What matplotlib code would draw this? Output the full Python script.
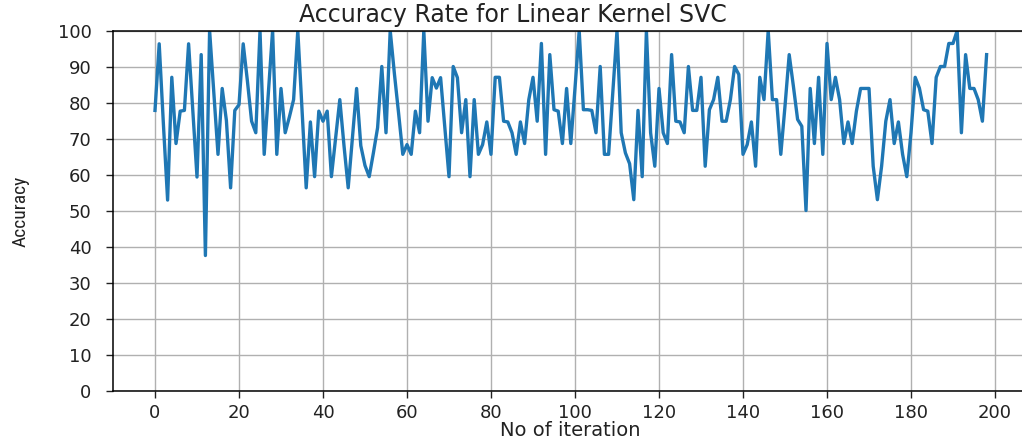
import matplotlib
matplotlib.use("Agg")
import matplotlib.pyplot as plt
from matplotlib import font_manager

# Accuracy (%) per iteration
accuracy = [
    77.8, 96.3, 74.0, 52.9, 87.0, 68.6, 77.6, 77.8, 96.3, 78.0,
    59.3, 93.3, 37.5, 100.0, 83.0, 65.6, 83.9, 75.0, 56.3, 77.8,
    79.4, 96.3, 86.0, 74.8, 71.6, 100.0, 65.6, 83.0, 100.0, 65.6,
    83.9, 71.6, 76.0, 80.8, 100.0, 78.0, 56.3, 74.6, 59.4, 77.6,
    74.8, 77.6, 59.4, 70.0, 80.8, 68.0, 56.3, 70.0, 83.9, 68.0,
    62.5, 59.4, 66.0, 73.0, 90.0, 71.6, 100.0, 88.0, 77.0, 65.6,
    68.3, 65.6, 77.6, 71.6, 100.0, 74.8, 86.9, 84.0, 86.9, 73.0,
    59.4, 90.0, 86.9, 71.6, 80.8, 59.4, 80.8, 65.6, 68.3, 74.6,
    65.6, 87.0, 87.0, 74.8, 74.6, 71.6, 65.6, 74.6, 68.6, 80.8,
    87.0, 74.8, 96.4, 65.6, 93.3, 78.0, 77.6, 68.6, 83.9, 68.6,
    84.0, 100.0, 78.0, 78.0, 77.8, 71.6, 90.0, 65.6, 65.6, 83.0,
    100.0, 71.6, 66.0, 63.0, 53.0, 77.8, 59.4, 100.0, 71.6, 62.3,
    83.9, 71.6, 68.6, 93.3, 74.8, 74.6, 71.6, 90.0, 77.8, 77.8,
    87.0, 62.3, 78.0, 80.8, 87.0, 74.8, 74.8, 80.8, 90.0, 87.8,
    65.6, 68.3, 74.6, 62.3, 87.0, 80.8, 100.0, 80.8, 80.8, 65.6,
    79.0, 93.3, 84.5, 75.3, 73.4, 50.0, 83.9, 68.6, 87.0, 65.6,
    96.4, 80.8, 87.0, 80.8, 68.6, 74.6, 68.6, 77.6, 83.9, 83.9,
    83.9, 62.3, 53.0, 62.3, 74.8, 80.8, 68.6, 74.6, 65.6, 59.4,
    71.6, 87.0, 84.0, 78.0, 77.6, 68.6, 87.0, 90.0, 90.0, 96.4,
    96.4, 100.0, 71.6, 93.3, 83.9, 83.9, 80.8, 74.8, 93.3,
]
iterations = list(range(len(accuracy)))
x_ticks = list(range(0, 201, 20))
y_ticks = list(range(0, 101, 10))

title = "Accuracy Rate for Linear Kernel SVC"
x_label = "No of iteration"
y_label = "Accuracy"

W, H = 1022, 438
fig = plt.figure(figsize=(W / 100, H / 100), dpi=100)
left_px, right_px, top_px, bottom_px = 113, 1028.6, 30.5, 390.5
ax = fig.add_axes([left_px / W, 1 - bottom_px / H,
                   (right_px - left_px) / W, (bottom_px - top_px) / H])

ax.plot(iterations, accuracy, color="#1f77b4", linewidth=2.4)
ax.set_xlim(-10, 208)
ax.set_ylim(0, 100)
ax.set_xticks(x_ticks)
ax.set_yticks(y_ticks)
ax.grid(True, color="#b0b0b0", linewidth=1.0)
ax.set_axisbelow(True)
for s in ax.spines.values():
    s.set_linewidth(1.1)
ax.tick_params(axis="both", labelsize=13, length=5, width=1.0,
               colors="#222222", labelcolor="#222222")
ax.tick_params(axis="y", pad=10.5)
ax.tick_params(axis="x", pad=5)

fig.text(513 / W, 1 - 22 / H, title, ha="center", va="baseline",
         fontsize=17, color="#222222")
fig.text(570 / W, 1 - 436 / H, x_label, ha="center", va="baseline",
         fontsize=14, color="#222222")

# narrow font for the y label, if a condensed face is installed
names = {f.name for f in font_manager.fontManager.ttflist}
cond = [n for n in ("DejaVu Sans Condensed", "Liberation Sans Narrow",
                    "Roboto Condensed", "Open Sans Condensed") if n in names]
fam = cond + ["DejaVu Sans"]
fig.text(21 / W, 1 - 211 / H, y_label, ha="center", va="center",
         rotation=90, fontsize=14, color="#222222",
         family=fam, fontstretch="condensed")

fig.savefig("out.png", dpi=100)
